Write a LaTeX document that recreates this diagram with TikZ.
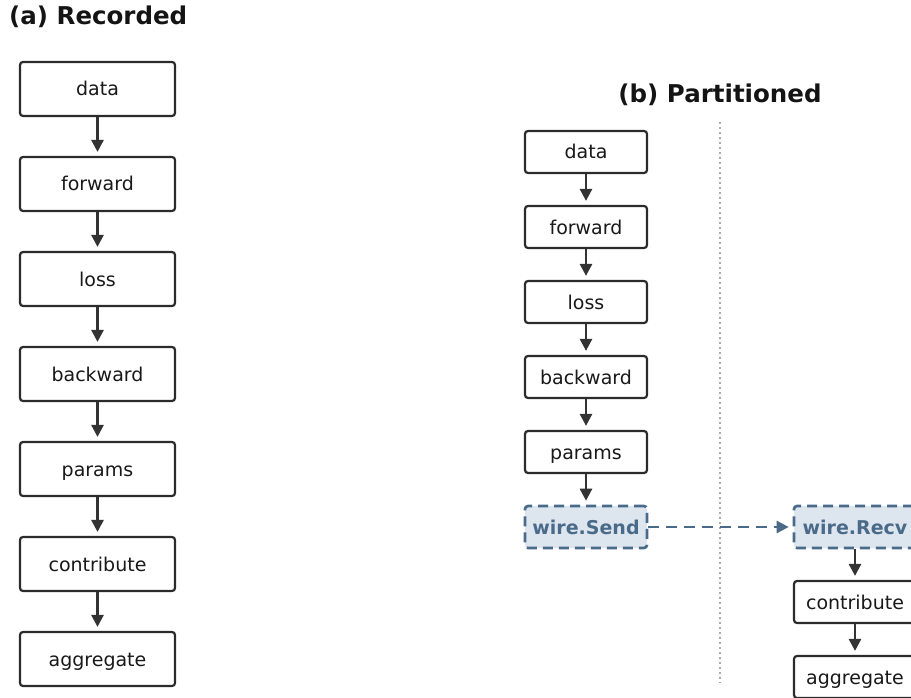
\documentclass[tikz,border=0pt]{standalone}
\usepackage{fontspec}
\setmainfont{DejaVu Sans}
\usetikzlibrary{arrows.meta}
\definecolor{boxline}{HTML}{2B2B2B}
\definecolor{arrowc}{HTML}{333333}
\definecolor{wireline}{HTML}{4A6A8A}
\definecolor{wirefill}{HTML}{DDE5EE}
\definecolor{sepline}{HTML}{AAAAAA}
\tikzset{
  opbox/.style={draw=boxline, line width=2.2pt, rounded corners=3pt, fill=white,
    inner sep=0pt, font=\fontsize{19}{21}\selectfont, text=black!90,
    text height=16pt, text depth=2pt},
  bigbox/.style={opbox, minimum width=155pt, minimum height=54pt},
  smallbox/.style={opbox, minimum width=122pt, minimum height=42pt},
  wirebox/.style={smallbox, draw=wireline, fill=wirefill, line width=2.6pt, dash pattern=on 10pt off 6pt,
    font=\fontsize{19}{21}\selectfont\bfseries, text=wireline},
  flow/.style={draw=arrowc, line width=2.6pt, shorten >=4pt,
    -{Triangle[length=12pt,width=12pt]}},
  wireflow/.style={draw=wireline, line width=2.6pt, dash pattern=on 11pt off 7pt, shorten >=4pt,
    -{Triangle[length=12pt,width=12pt]}},
  ttl/.style={font=\fontsize{24.5}{27}\selectfont\bfseries, text=black!92, inner sep=0pt},
}
\begin{document}
\begin{tikzpicture}[x=1pt,y=-1pt]
\useasboundingbox (0,0) rectangle (911,698);
% titles
\node[ttl, anchor=west] (ta) at (9,17) {(a) Recorded};
\node[ttl] (tb) at (720,95) {(b) Partitioned};
% separator
\coordinate (s1) at (720,122);
\coordinate (s2) at (720,683);
\draw[sepline, line width=1.2pt, dash pattern=on 2pt off 3pt] (s1) -- (s2);
% left column
\node[bigbox] (a1) at (97.5,89) {data};
\node[bigbox] (a2) at (97.5,184) {forward};
\node[bigbox] (a3) at (97.5,279) {loss};
\node[bigbox] (a4) at (97.5,374) {backward};
\node[bigbox] (a5) at (97.5,469) {params};
\node[bigbox] (a6) at (97.5,564) {contribute};
\node[bigbox] (a7) at (97.5,659) {aggregate};
\foreach \i/\j in {a1/a2,a2/a3,a3/a4,a4/a5,a5/a6,a6/a7} \draw[flow] (\i) -- (\j);
% right column
\node[smallbox] (b1) at (586,152) {data};
\node[smallbox] (b2) at (586,227) {forward};
\node[smallbox] (b3) at (586,302) {loss};
\node[smallbox] (b4) at (586,377) {backward};
\node[smallbox] (b5) at (586,452) {params};
\node[wirebox] (b6) at (586,527) {wire.Send};
\foreach \i/\j in {b1/b2,b2/b3,b3/b4,b4/b5,b5/b6} \draw[flow] (\i) -- (\j);
\node[wirebox] (c1) at (855,527) {wire.Recv};
\node[smallbox] (c2) at (855,602) {contribute};
\node[smallbox] (c3) at (855,677) {aggregate};
\draw[wireflow] (b6) -- (c1);
\draw[flow] (c1) -- (c2);
\draw[flow] (c2) -- (c3);
\end{tikzpicture}
\end{document}
